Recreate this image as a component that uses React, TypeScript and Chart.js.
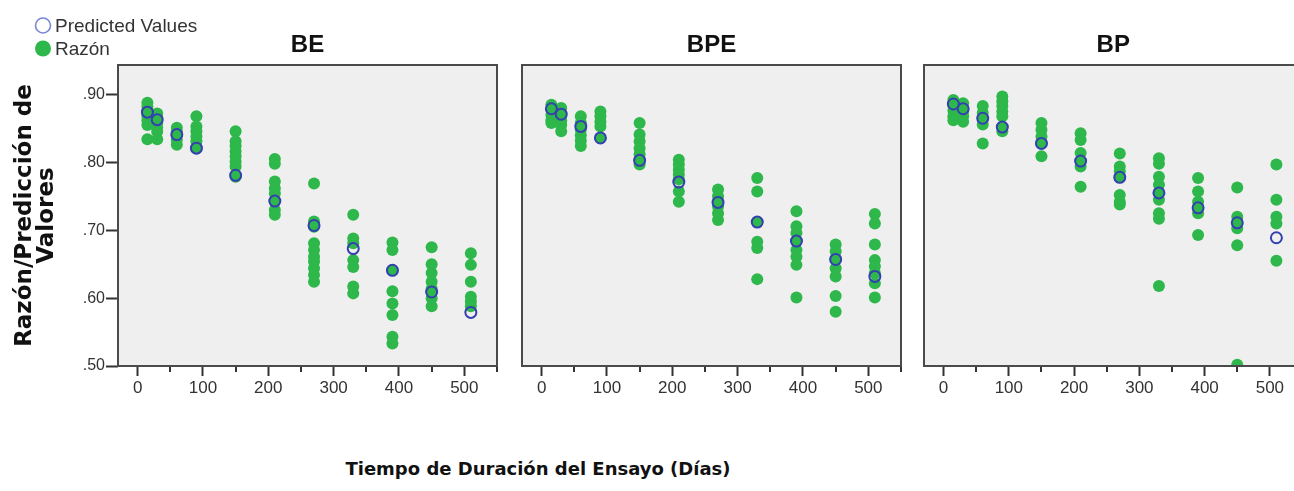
import React, { useEffect, useRef } from 'react';
import { Chart, registerables } from 'chart.js';

Chart.register(...registerables);

// ---------- data ----------
const DAYS = [15, 30, 60, 90, 150, 210, 270, 330, 390, 450, 510];
const SERIES_LABELS = ['Predicted Values', 'Razón'];
const PANEL_TITLES = ['BE', 'BPE', 'BP'];
const Y_TITLE = ['Razón/Predicción de', 'Valores'];
const X_TITLE = 'Tiempo de Duración del Ensayo (Días)';

const BE_PREDICTED = [0.874, 0.863, 0.841, 0.821, 0.781, 0.743, 0.707, 0.673, 0.641, 0.609, 0.579];
const BE_RAZON = [
  [0.888, 0.882, 0.875, 0.868, 0.862, 0.855, 0.834],
  [0.872, 0.865, 0.858, 0.851, 0.845, 0.834],
  [0.851, 0.845, 0.840, 0.833, 0.826],
  [0.868, 0.853, 0.846, 0.838, 0.831, 0.821],
  [0.846, 0.831, 0.824, 0.816, 0.809, 0.801, 0.794, 0.779],
  [0.805, 0.798, 0.772, 0.762, 0.754, 0.743, 0.730, 0.723],
  [0.769, 0.713, 0.705, 0.681, 0.671, 0.661, 0.654, 0.644, 0.634, 0.624],
  [0.723, 0.688, 0.681, 0.656, 0.646, 0.617, 0.607],
  [0.682, 0.671, 0.641, 0.610, 0.592, 0.575, 0.543, 0.533],
  [0.675, 0.650, 0.637, 0.624, 0.614, 0.609, 0.600, 0.588],
  [0.666, 0.649, 0.624, 0.602, 0.595, 0.588],
];

const BPE_PREDICTED = [0.879, 0.871, 0.853, 0.836, 0.803, 0.771, 0.741, 0.712, 0.684, 0.657, 0.632];
const BPE_RAZON = [
  [0.885, 0.878, 0.870, 0.862, 0.858],
  [0.880, 0.870, 0.862, 0.855, 0.846],
  [0.868, 0.858, 0.848, 0.840, 0.832, 0.824],
  [0.875, 0.868, 0.860, 0.853, 0.836],
  [0.858, 0.841, 0.831, 0.821, 0.812, 0.803, 0.797],
  [0.804, 0.797, 0.789, 0.782, 0.775, 0.757, 0.742],
  [0.760, 0.750, 0.741, 0.735, 0.725, 0.715],
  [0.777, 0.757, 0.712, 0.683, 0.674, 0.628],
  [0.728, 0.706, 0.696, 0.684, 0.671, 0.661, 0.649, 0.601],
  [0.679, 0.669, 0.657, 0.644, 0.632, 0.603, 0.580],
  [0.724, 0.710, 0.679, 0.656, 0.647, 0.637, 0.622, 0.601],
];

const BP_PREDICTED = [0.886, 0.879, 0.865, 0.852, 0.828, 0.802, 0.778, 0.755, 0.733, 0.711, 0.689];
const BP_RAZON = [
  [0.892, 0.884, 0.876, 0.868, 0.862],
  [0.887, 0.875, 0.868, 0.860],
  [0.883, 0.873, 0.865, 0.856, 0.828],
  [0.897, 0.890, 0.883, 0.875, 0.868, 0.852, 0.846],
  [0.858, 0.848, 0.838, 0.828, 0.809],
  [0.843, 0.833, 0.814, 0.802, 0.794, 0.764],
  [0.813, 0.794, 0.787, 0.778, 0.752, 0.742, 0.738],
  [0.806, 0.798, 0.779, 0.767, 0.755, 0.745, 0.725, 0.717, 0.618],
  [0.777, 0.757, 0.742, 0.733, 0.725, 0.693],
  [0.763, 0.720, 0.711, 0.703, 0.678, 0.502],
  [0.797, 0.745, 0.720, 0.710, 0.655],
];

const X_MIN = -30;
const X_MAX = 550;
const X_STEP = 100;
const X_MINOR = [50, 150, 250, 350, 450, 550];
const Y_MIN = 0.5;
const Y_MAX = 0.9435;
const Y_STEP = 0.1;

// ---------- styles / layout ----------
const GREEN = 'rgb(46,183,74)';
const BLUE = 'rgb(52,64,176)';
const LEGEND_BLUE = 'rgb(120,132,212)';
const PLOT_BG = '#efefef';
const FRAME = '#4a4a4a';
const SANS = '"Liberation Sans", Arial, sans-serif';
const BOLD_SANS = '"DejaVu Sans", Verdana, sans-serif';
const CANVAS_H = 400;

const PANELS = [
  { title: PANEL_TITLES[0], pred: BE_PREDICTED, razon: BE_RAZON, left: 0, width: 505, padLeft: 0, padRight: 8, first: true },
  { title: PANEL_TITLES[1], pred: BPE_PREDICTED, razon: BPE_RAZON, left: 505, width: 405, padLeft: 17, padRight: 9, first: false },
  { title: PANEL_TITLES[2], pred: BP_PREDICTED, razon: BP_RAZON, left: 910, width: 400, padLeft: 14, padRight: 7, first: false },
];

const framePlugin = {
  id: 'panelFrame',
  beforeDraw(chart: any) {
    const { ctx, chartArea } = chart;
    const { left, top, right, bottom } = chartArea;
    ctx.save();
    ctx.fillStyle = PLOT_BG;
    ctx.fillRect(left, top, right - left, bottom - top);
    ctx.restore();
  },
  afterDatasetsDraw(chart: any) {
    const { ctx, chartArea } = chart;
    const { left, top, right, bottom } = chartArea;
    ctx.save();
    ctx.strokeStyle = FRAME;
    ctx.lineWidth = 2;
    ctx.strokeRect(left, top, right - left, bottom - top);
    ctx.restore();
  },
  afterDraw(chart: any) {
    const { ctx, chartArea } = chart;
    const xs = chart.scales.x;
    ctx.save();
    ctx.strokeStyle = '#333';
    ctx.lineWidth = 2;
    X_MINOR.forEach((v) => {
      if (v < xs.min || v > xs.max) return;
      const px = Math.round(xs.getPixelForValue(v));
      ctx.beginPath();
      ctx.moveTo(px, chartArea.bottom + 1);
      ctx.lineTo(px, chartArea.bottom + 6);
      ctx.stroke();
    });
    ctx.restore();
  },
};

const legendPlugin = {
  id: 'stackedLegend',
  afterDraw(chart: any) {
    const { ctx } = chart;
    ctx.save();
    chart.data.datasets.forEach((ds: any, i: number) => {
      const cy = 25.5 + i * 23;
      ctx.beginPath();
      if (i === 0) {
        ctx.arc(43, cy, 7.5, 0, Math.PI * 2);
        ctx.strokeStyle = LEGEND_BLUE;
        ctx.lineWidth = 1.6;
        ctx.stroke();
      } else {
        ctx.arc(43, cy, 8, 0, Math.PI * 2);
        ctx.fillStyle = ds.backgroundColor;
        ctx.fill();
      }
      ctx.fillStyle = '#333';
      ctx.font = `19px ${SANS}`;
      ctx.textBaseline = 'middle';
      ctx.textAlign = 'left';
      ctx.fillText(ds.label, 55, cy + 1.5);
    });
    ctx.restore();
  },
};

function Panel(props: any) {
  const { title, pred, razon, left, width, padLeft, padRight, first } = props;
  const ref = useRef<HTMLCanvasElement>(null);

  useEffect(() => {
    const predicted = DAYS.map((d, i) => ({ x: d, y: pred[i] }));
    const observed: { x: number; y: number }[] = [];
    DAYS.forEach((d, i) => razon[i].forEach((v: number) => observed.push({ x: d, y: v })));

    const chart = new Chart(ref.current as HTMLCanvasElement, {
      type: 'scatter',
      data: {
        datasets: [
          {
            label: SERIES_LABELS[0],
            data: predicted,
            pointRadius: 5.5,
            pointBorderWidth: 2,
            borderColor: BLUE,
            pointBorderColor: BLUE,
            backgroundColor: 'rgba(0,0,0,0)',
            pointBackgroundColor: 'rgba(0,0,0,0)',
          },
          {
            label: SERIES_LABELS[1],
            data: observed,
            pointRadius: 6,
            pointBorderWidth: 0,
            borderColor: GREEN,
            backgroundColor: GREEN,
            pointBackgroundColor: GREEN,
          },
        ],
      },
      options: {
        responsive: false,
        animation: false,
        events: [],
        layout: { padding: { left: padLeft, right: padRight, top: 0, bottom: 0 } },
        plugins: {
          legend: { display: false },
          tooltip: { enabled: false },
          title: {
            display: true,
            text: title,
            fullSize: false,
            color: '#111',
            font: { family: SANS, size: 24, weight: 'bold', lineHeight: 1.2 },
            padding: { top: 30.6, bottom: 5.6 },
          },
        },
        scales: {
          x: {
            type: 'linear',
            min: X_MIN,
            max: X_MAX,
            afterFit: (s: any) => {
              s.height = CANVAS_H - 366;
            },
            border: { display: false },
            grid: { drawOnChartArea: false, drawTicks: true, tickLength: 10, tickColor: '#333', tickWidth: 2 },
            ticks: {
              stepSize: X_STEP,
              includeBounds: false,
              autoSkip: false,
              maxRotation: 0,
              padding: 2,
              color: '#333',
              font: { family: SANS, size: 17 },
            },
          },
          y: {
            type: 'linear',
            display: first,
            min: Y_MIN,
            max: Y_MAX,
            afterFit: (s: any) => {
              s.width = first ? 118 : 0;
            },
            border: { display: false },
            grid: { drawOnChartArea: false, drawTicks: true, tickLength: 12, tickColor: '#333', tickWidth: 2 },
            ticks: {
              stepSize: Y_STEP,
              includeBounds: false,
              padding: 1,
              color: '#333',
              font: { family: SANS, size: 16 },
              callback: (v: any) => Number(v).toFixed(2).replace(/^0/, ''),
            },
            title: {
              display: true,
              text: Y_TITLE,
              color: '#111',
              font: { family: BOLD_SANS, size: 23, weight: 'bold', lineHeight: 0.96 },
              padding: { top: 14, bottom: 0 },
            },
          },
        },
      },
      plugins: first ? [framePlugin, legendPlugin] : [framePlugin],
    } as any);

    return () => chart.destroy();
  }, []);

  return (
    <canvas
      ref={ref}
      width={width}
      height={CANVAS_H}
      style={{ position: 'absolute', left, top: 0, width, height: CANVAS_H }}
    />
  );
}

export default function App() {
  return (
    <div
      style={{
        position: 'absolute',
        left: 0,
        top: 0,
        width: 1294,
        height: 491,
        overflow: 'hidden',
        background: '#fff',
      }}
    >
      {PANELS.map((p) => (
        <Panel key={p.title} {...p} />
      ))}
      <div
        style={{
          position: 'absolute',
          left: 288,
          top: 459,
          width: 500,
          textAlign: 'center',
          fontFamily: BOLD_SANS,
          fontWeight: 'bold',
          fontSize: 18,
          lineHeight: '20px',
          color: '#111',
          whiteSpace: 'nowrap',
        }}
      >
        {X_TITLE}
      </div>
    </div>
  );
}
